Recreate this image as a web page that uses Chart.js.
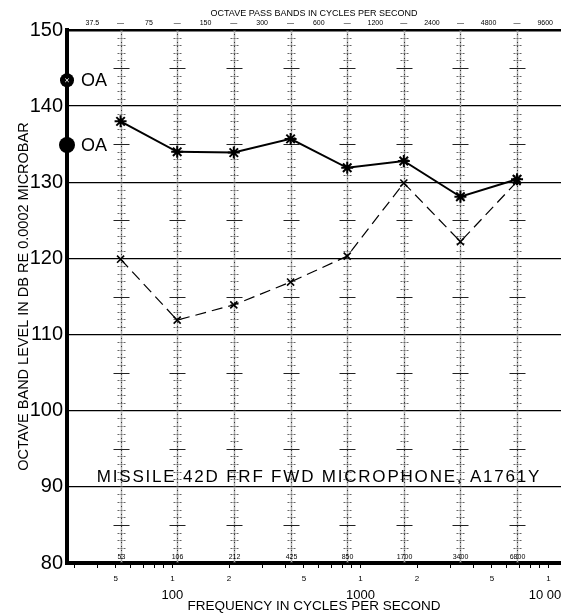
<!DOCTYPE html>
<html>
<head>
<meta charset="utf-8">
<script src="https://cdn.jsdelivr.net/npm/chart.js@4.4.1/dist/chart.umd.min.js"></script>
<style>
  html, body { margin: 0; padding: 0; background: #fff; }
  #wrap { width: 561px; height: 614px; }
</style>
</head>
<body>
<div id="wrap"><canvas id="chart"></canvas></div>
<script>
// octave band centres / edges (cycles per second)
const BAND_CENTERS = [53, 106, 212, 425, 850, 1700, 3400, 6800];
const BAND_EDGES = [37.5, 75, 150, 300, 600, 1200, 2400, 4800, 9600];

// octave band levels, dB re 0.0002 microbar
const LEVEL_SOLID = [138.0, 134.0, 133.9, 135.7, 131.9, 132.8, 128.1, 130.4];
const LEVEL_DASHED = [119.9, 111.9, 113.9, 116.9, 120.3, 129.9, 122.2, 130.1];
const OA_LEVELS = [143.4, 134.9];

// frequency axis
const FREQ_MIN = 27.5;
const FREQ_MAX = 11650;
const FREQ_MINOR_TICKS = [30, 40, 50, 60, 70, 80, 90, 100, 200, 300, 400, 500, 600, 700, 800, 900,
  1000, 2000, 3000, 4000, 5000, 6000, 7000, 8000, 9000, 10000];
const FREQ_MINOR_LABELS = ["", "", "5", "", "", "", "", "1", "2", "", "", "5", "", "", "", "",
  "1", "2", "", "", "5", "", "", "", "", "1"];
const FREQ_MAJOR_TICKS = [100, 1000, 10000];
const FREQ_MAJOR_LABELS = ["100", "1000", "10 000"];

const DB_MIN = 80;
const DB_MAX = 150;

const TITLE = "MISSILE 42D FRF FWD MICROPHONE, A1761Y";
const FONT = "'Liberation Sans', Arial, sans-serif";

// top axis: band edges with a dash at each centre
const TOP_TICKS = [];
const TOP_LABELS = [];
BAND_EDGES.forEach((e, i) => {
  TOP_TICKS.push(e);
  TOP_LABELS.push(String(e));
  if (i < BAND_CENTERS.length) {
    TOP_TICKS.push(BAND_CENTERS[i]);
    TOP_LABELS.push("\u2014");
  }
});

Chart.defaults.font.family = FONT;
Chart.defaults.color = "#000";

// printed scale on each band line
const bandMarks = {
  id: "bandMarks",
  beforeDatasetsDraw(chart) {
    const { ctx, chartArea: a, scales: { x, y } } = chart;
    ctx.save();
    BAND_CENTERS.forEach(f => {
      const px = Math.round(x.getPixelForValue(f)) + 0.5;
      ctx.strokeStyle = "#b0b0b0";
      ctx.lineWidth = 1.5;
      ctx.beginPath(); ctx.moveTo(px, a.top); ctx.lineTo(px, a.bottom); ctx.stroke();
      ctx.strokeStyle = "#333";
      ctx.lineWidth = 1;
      ctx.setLineDash([1, 3]);
      ctx.beginPath(); ctx.moveTo(px, a.top); ctx.lineTo(px, a.bottom); ctx.stroke();
      for (let v = DB_MIN + 2; v < DB_MAX; v++) {
        if (v % 10 === 0) continue;
        const py = Math.round(y.getPixelForValue(v)) + 0.5;
        const five = v % 5 === 0;
        const half = five ? 8 : 4;
        ctx.strokeStyle = five ? "#222" : "#666";
        ctx.setLineDash(five ? [] : [2, 1]);
        ctx.beginPath(); ctx.moveTo(px - half, py); ctx.lineTo(px + half, py); ctx.stroke();
      }
      ctx.setLineDash([]);
      ctx.fillStyle = "#000";
      ctx.font = "7px " + FONT;
      ctx.textAlign = "center";
      ctx.textBaseline = "alphabetic";
      ctx.fillText(String(f), px, a.bottom - 4);
    });
    ctx.restore();
  }
};

// "OA" labels and the title inside the plot
const notes = {
  id: "notes",
  afterDatasetsDraw(chart) {
    const { ctx, chartArea: a } = chart;
    ctx.save();
    ctx.fillStyle = "#000";
    ctx.font = "18px " + FONT;
    ctx.textAlign = "left";
    ctx.textBaseline = "middle";
    chart.getDatasetMeta(2).data.forEach(pt => ctx.fillText("OA", pt.x + 14, pt.y + 1));
    ctx.font = "17px " + FONT;
    ctx.letterSpacing = "1.8px";
    ctx.textAlign = "center";
    ctx.textBaseline = "alphabetic";
    ctx.fillText(TITLE, (a.left + a.right) / 2 + 5, a.bottom - 81);
    ctx.restore();
  }
};

const noPad = s => { s.paddingLeft = 0; s.paddingRight = 0; s.paddingTop = 0; s.paddingBottom = 0; };

new Chart(document.getElementById("chart"), {
  type: "line",
  data: {
    datasets: [
      {
        data: BAND_CENTERS.map((f, i) => ({ x: f, y: LEVEL_SOLID[i] })),
        borderColor: "#000", borderWidth: 2,
        pointStyle: "star", pointRadius: 6, pointBorderWidth: 2,
        pointBorderColor: "#000", pointBackgroundColor: "#000",
        tension: 0, order: 2
      },
      {
        data: BAND_CENTERS.map((f, i) => ({ x: f, y: LEVEL_DASHED[i] })),
        borderColor: "#000", borderWidth: 1.2, borderDash: [11, 6],
        pointStyle: "crossRot", pointRadius: 5, pointBorderWidth: 1.6,
        pointBorderColor: "#000",
        tension: 0, order: 3
      },
      {
        data: OA_LEVELS.map(v => ({ x: FREQ_MIN, y: v })),
        showLine: false, clip: false,
        pointStyle: "circle", pointRadius: [7, 8], pointBorderWidth: 0,
        pointBackgroundColor: "#000", pointBorderColor: "#000", order: 1
      },
      {
        data: [{ x: FREQ_MIN, y: OA_LEVELS[0] }],
        showLine: false, clip: false,
        pointStyle: "crossRot", pointRadius: 2.5, pointBorderWidth: 1,
        pointBorderColor: "#fff", order: 0
      }
    ]
  },
  options: {
    responsive: true,
    maintainAspectRatio: false,
    animation: false,
    layout: { padding: 0, autoPadding: false },
    plugins: { legend: { display: false }, tooltip: { enabled: false } },
    events: [],
    scales: {
      x: {
        type: "logarithmic", position: "bottom", min: FREQ_MIN, max: FREQ_MAX, weight: 1,
        afterBuildTicks: s => { s.ticks = FREQ_MINOR_TICKS.map(v => ({ value: v })); },
        afterFit: s => { s.height = 22; noPad(s); },
        grid: { drawOnChartArea: false, drawTicks: true, tickLength: 5, color: "#000", lineWidth: 1 },
        border: { display: true, color: "#000", width: 4 },
        ticks: {
          autoSkip: false, maxRotation: 0, minRotation: 0, padding: 6,
          font: { size: 8 }, callback: (v, i) => FREQ_MINOR_LABELS[i]
        }
      },
      x2: {
        type: "logarithmic", position: "bottom", min: FREQ_MIN, max: FREQ_MAX, weight: 2,
        afterBuildTicks: s => { s.ticks = FREQ_MAJOR_TICKS.map(v => ({ value: v })); },
        afterFit: s => { s.height = 29; noPad(s); },
        grid: { display: false, drawTicks: false, tickLength: 0 },
        border: { display: false },
        ticks: {
          autoSkip: false, maxRotation: 0, minRotation: 0, padding: 3,
          font: { size: 13 }, callback: (v, i) => FREQ_MAJOR_LABELS[i]
        },
        title: {
          display: true, text: "FREQUENCY IN CYCLES PER SECOND",
          font: { size: 13.5 }, padding: { top: 0, bottom: 0 }
        }
      },
      xt: {
        type: "logarithmic", position: "top", min: FREQ_MIN, max: FREQ_MAX,
        afterBuildTicks: s => { s.ticks = TOP_TICKS.map(v => ({ value: v })); },
        afterFit: s => { s.height = 30; noPad(s); },
        grid: { display: false, drawTicks: false, tickLength: 0 },
        border: { display: false },
        ticks: {
          autoSkip: false, maxRotation: 0, minRotation: 0, padding: 3,
          font: { size: 7 }, callback: (v, i) => TOP_LABELS[i]
        },
        title: {
          display: true, text: "OCTAVE PASS BANDS IN CYCLES PER SECOND",
          font: { size: 9 }, padding: { top: 8, bottom: 0 }
        }
      },
      y: {
        min: DB_MIN, max: DB_MAX, position: "left",
        afterFit: s => { s.width = 67; noPad(s); },
        ticks: { stepSize: 10, padding: 4, font: { size: 20 } },
        grid: {
          color: "#000", drawTicks: false,
          lineWidth: c => (c.tick && c.tick.value === DB_MAX ? 2.5 : 1.3)
        },
        border: { color: "#000", width: 4 },
        title: {
          display: true, text: "OCTAVE BAND LEVEL IN DB RE 0.0002 MICROBAR",
          font: { size: 14.5 }, padding: { top: 15, bottom: 0 }
        }
      }
    }
  },
  plugins: [bandMarks, notes]
});
</script>
</body>
</html>
